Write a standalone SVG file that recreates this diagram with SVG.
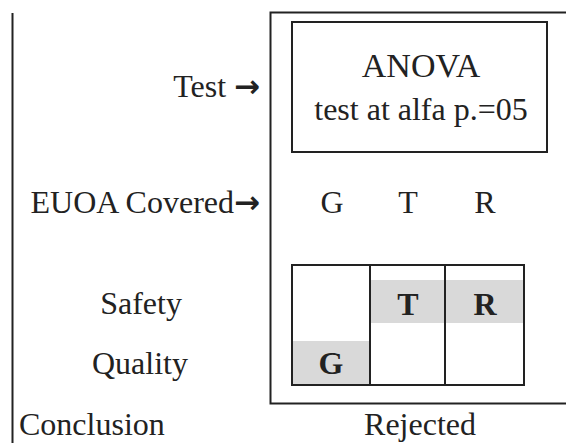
<svg xmlns="http://www.w3.org/2000/svg" width="566" height="443" viewBox="0 0 566 443">
  <style>
    .t { font-family: "Liberation Serif", "DejaVu Serif", "Times New Roman", serif; font-size: 32px; fill: #222; }
    .big { font-size: 34px; }
    .c { text-anchor: middle; }
    .e { text-anchor: end; }
    .b { font-weight: bold; }
    .ar { font-family: "DejaVu Sans", sans-serif; font-weight: bold; font-size: 31px; }
    .ln { fill: none; stroke: #222; stroke-width: 2; }
    .shade { fill: #d9d9d9; }
  </style>
  <rect width="566" height="443" fill="#fff"/>

  <!-- frame lines -->
  <g id="frame">
    <line class="ln" x1="12.5" y1="13" x2="12.5" y2="443"/>
    <path class="ln" d="M566 12.5 H270.5 V403.5 H566"/>
  </g>

  <!-- row labels -->
  <g id="labels">
    <text class="t e" x="260" y="97">Test <tspan class="ar">→</tspan></text>
    <text class="t e" x="260" y="213">EUOA Covered<tspan class="ar">→</tspan></text>
    <text class="t c" x="141" y="314">Safety</text>
    <text class="t c" x="140" y="374">Quality</text>
    <text class="t" x="19" y="435">Conclusion</text>
  </g>

  <g id="anova">
    <rect class="ln" x="292" y="22" width="255" height="130"/>
    <text class="t big c" x="421" y="77">ANOVA</text>
    <text class="t c" x="421" y="120">test at alfa p.=05</text>
  </g>

  <g id="euoa">
    <text class="t c" x="332" y="213">G</text>
    <text class="t c" x="408" y="213">T</text>
    <text class="t c" x="485" y="213">R</text>
  </g>

  <g id="grid">
    <rect class="shade" x="371" y="280" width="152" height="43"/>
    <rect class="shade" x="293" y="341" width="77" height="43"/>
    <rect class="ln" x="292" y="265" width="232" height="120"/>
    <line class="ln" x1="370" y1="265" x2="370" y2="385"/>
    <line class="ln" x1="445" y1="265" x2="445" y2="385"/>
    <text class="t c b" x="408" y="315">T</text>
    <text class="t c b" x="485" y="315">R</text>
    <text class="t c b" x="331" y="374">G</text>
  </g>

  <g id="result">
    <text class="t c" x="420" y="435">Rejected</text>
  </g>
</svg>
